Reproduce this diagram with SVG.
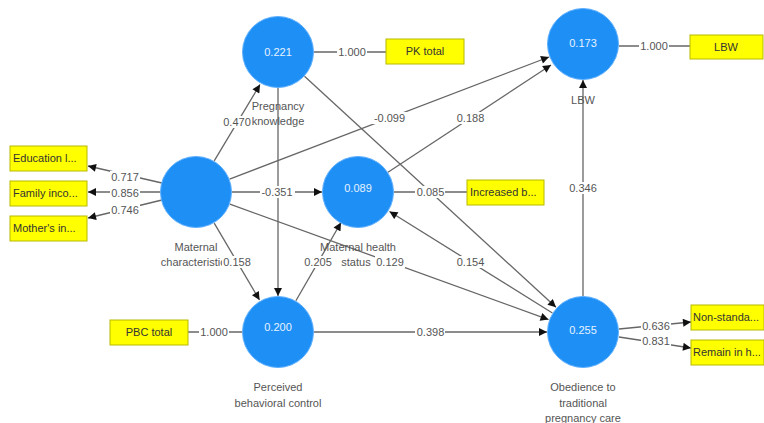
<svg xmlns="http://www.w3.org/2000/svg" width="764" height="423" viewBox="0 0 764 423">
<defs>
<marker id="ah" viewBox="0 0 10 10" refX="10" refY="5" markerWidth="9" markerHeight="8" markerUnits="userSpaceOnUse" orient="auto">
<path d="M0,0 L10,5 L0,10 z" fill="#111"/>
</marker>
<style>
.ln{stroke:#666;stroke-width:1.3;fill:none}
.ar{stroke:#666;stroke-width:1.3;fill:none;marker-end:url(#ah)}
.lv{fill:#1E8FF5;stroke:#5fb0ff;stroke-width:1}
.val{font-family:"Liberation Sans",Arial,sans-serif;font-size:11px;fill:#e6f2ff;text-anchor:middle}
.nm{font-family:"Liberation Sans",Arial,sans-serif;font-size:11px;fill:#555;text-anchor:middle}
.box{fill:#ffff00;stroke:#b8b800;stroke-width:1}
.bt{font-family:"Liberation Sans",Arial,sans-serif;font-size:11px;fill:#333}
.el{font-family:"Liberation Sans",Arial,sans-serif;font-size:11px;fill:#555;text-anchor:middle}
.bg{fill:#fff}
</style>
</defs>
<rect width="764" height="423" fill="#fff"/>
<g id="connectors">
<line class="ar" x1="162" y1="183" x2="88" y2="166"/>
<line class="ar" x1="160" y1="192" x2="88" y2="192"/>
<line class="ar" x1="162" y1="200" x2="88" y2="218"/>
<line class="ar" x1="214.2" y1="160.9" x2="260" y2="84.5"/>
<line class="ar" x1="232" y1="192" x2="322" y2="192"/>
<line class="ar" x1="214.2" y1="223.1" x2="259.5" y2="300"/>
<line class="ar" x1="229.6" y1="179.1" x2="549" y2="57"/>
<line class="ar" x1="229.9" y1="204.2" x2="548.5" y2="319.6"/>
<line class="ar" x1="278" y1="88" x2="278" y2="296"/>
<line class="ar" x1="304.5" y1="76.3" x2="556" y2="307.3"/>
<line class="ar" x1="388" y1="172.2" x2="551" y2="65"/>
<line class="ar" x1="295.9" y1="300.8" x2="341" y2="222.5"/>
<line class="ar" x1="552.4" y1="313" x2="389.5" y2="211.5"/>
<line class="ar" x1="314" y1="332" x2="547" y2="332"/>
<line class="ar" x1="583" y1="296" x2="583" y2="80"/>
<line class="ar" x1="619" y1="329" x2="691" y2="322"/>
<line class="ar" x1="619" y1="337" x2="691" y2="348"/>
<line class="ln" x1="394" y1="192" x2="467" y2="192"/>
<line class="ln" x1="314" y1="52" x2="386" y2="52"/>
<line class="ln" x1="619" y1="46" x2="690" y2="46"/>
<line class="ln" x1="188" y1="332" x2="242" y2="332"/>
</g>
<g id="n-maternal">
<circle class="lv" cx="196" cy="192" r="35.5"/>
<text class="nm" x="196" y="251">Maternal</text>
<text class="nm" x="196" y="266">characteristics</text>
</g>
<g id="n-pk">
<circle class="lv" cx="278" cy="52" r="35.5"/>
<text class="val" x="278" y="56">0.221</text>
<text class="nm" x="278" y="110">Pregnancy</text>
<text class="nm" x="278" y="125">knowledge</text>
</g>
<g id="n-mh">
<circle class="lv" cx="358" cy="192" r="35.5"/>
<text class="val" x="358" y="192">0.089</text>
<text class="nm" x="358" y="251">Maternal health</text>
<text class="nm" x="356" y="266">status</text>
</g>
<g id="n-pbc">
<circle class="lv" cx="278" cy="332" r="35.5"/>
<text class="val" x="278" y="331">0.200</text>
<text class="nm" x="278" y="391">Perceived</text>
<text class="nm" x="278" y="407">behavioral control</text>
</g>
<g id="n-lbw">
<circle class="lv" cx="583" cy="44" r="35.5"/>
<text class="val" x="583" y="47">0.173</text>
<text class="nm" x="583" y="104">LBW</text>
</g>
<g id="n-ob">
<circle class="lv" cx="583" cy="332" r="35.5"/>
<text class="val" x="583" y="334">0.255</text>
<text class="nm" x="583" y="391">Obedience to</text>
<text class="nm" x="583" y="407">traditional</text>
<text class="nm" x="583" y="422">pregnancy care</text>
</g>
<g id="i-edu"><rect class="box" x="10" y="146" width="77" height="25"/><text class="bt" x="13" y="162">Education l...</text></g>
<g id="i-fam"><rect class="box" x="10" y="181" width="77" height="25"/><text class="bt" x="13" y="197">Family inco...</text></g>
<g id="i-mot"><rect class="box" x="10" y="216" width="77" height="25"/><text class="bt" x="13" y="232">Mother's in...</text></g>
<g id="i-pk"><rect class="box" x="386" y="39" width="78" height="25"/><text class="bt" x="425" y="55" text-anchor="middle">PK total</text></g>
<g id="i-inc"><rect class="box" x="467" y="180" width="77" height="25"/><text class="bt" x="470" y="196">Increased b...</text></g>
<g id="i-lbw"><rect class="box" x="690" y="35" width="73" height="24"/><text class="bt" x="726" y="51" text-anchor="middle">LBW</text></g>
<g id="i-pbc"><rect class="box" x="110" y="320" width="78" height="25"/><text class="bt" x="149" y="336" text-anchor="middle">PBC total</text></g>
<g id="i-non"><rect class="box" x="691" y="305" width="73" height="25"/><text class="bt" x="693" y="321">Non-standa...</text></g>
<g id="i-rem"><rect class="box" x="691" y="340" width="73" height="25"/><text class="bt" x="693" y="356">Remain in h...</text></g>
<g id="edge-labels">
<rect class="bg" x="110" y="171" width="30" height="12"/><text class="el" x="125" y="181">0.717</text>
<rect class="bg" x="110" y="187" width="30" height="12"/><text class="el" x="125" y="197">0.856</text>
<rect class="bg" x="110" y="204" width="30" height="12"/><text class="el" x="125" y="214">0.746</text>
<rect class="bg" x="222" y="116" width="30" height="12"/><text class="el" x="237" y="126">0.470</text>
<rect class="bg" x="372" y="112" width="35" height="12"/><text class="el" x="389.5" y="122">-0.099</text>
<rect class="bg" x="455" y="112" width="30" height="12"/><text class="el" x="470.5" y="122">0.188</text>
<rect class="bg" x="260" y="186" width="35" height="12"/><text class="el" x="277" y="196">-0.351</text>
<rect class="bg" x="415" y="186" width="30" height="12"/><text class="el" x="430.5" y="196">0.085</text>
<rect class="bg" x="568" y="182" width="30" height="12"/><text class="el" x="583" y="192">0.346</text>
<rect class="bg" x="222" y="256" width="30" height="12"/><text class="el" x="237" y="266">0.158</text>
<rect class="bg" x="303" y="256" width="30" height="12"/><text class="el" x="318" y="266">0.205</text>
<rect class="bg" x="375" y="256" width="30" height="12"/><text class="el" x="390" y="266">0.129</text>
<rect class="bg" x="455" y="256" width="30" height="12"/><text class="el" x="470.5" y="266">0.154</text>
<rect class="bg" x="415" y="326" width="30" height="12"/><text class="el" x="430.5" y="336">0.398</text>
<rect class="bg" x="337" y="46" width="30" height="12"/><text class="el" x="352" y="56">1.000</text>
<rect class="bg" x="639" y="40" width="30" height="12"/><text class="el" x="654" y="50">1.000</text>
<rect class="bg" x="199" y="326" width="30" height="12"/><text class="el" x="214" y="336">1.000</text>
<rect class="bg" x="641" y="320" width="30" height="12"/><text class="el" x="656" y="330">0.636</text>
<rect class="bg" x="641" y="335" width="30" height="12"/><text class="el" x="656" y="345">0.831</text>
</g>
</svg>
